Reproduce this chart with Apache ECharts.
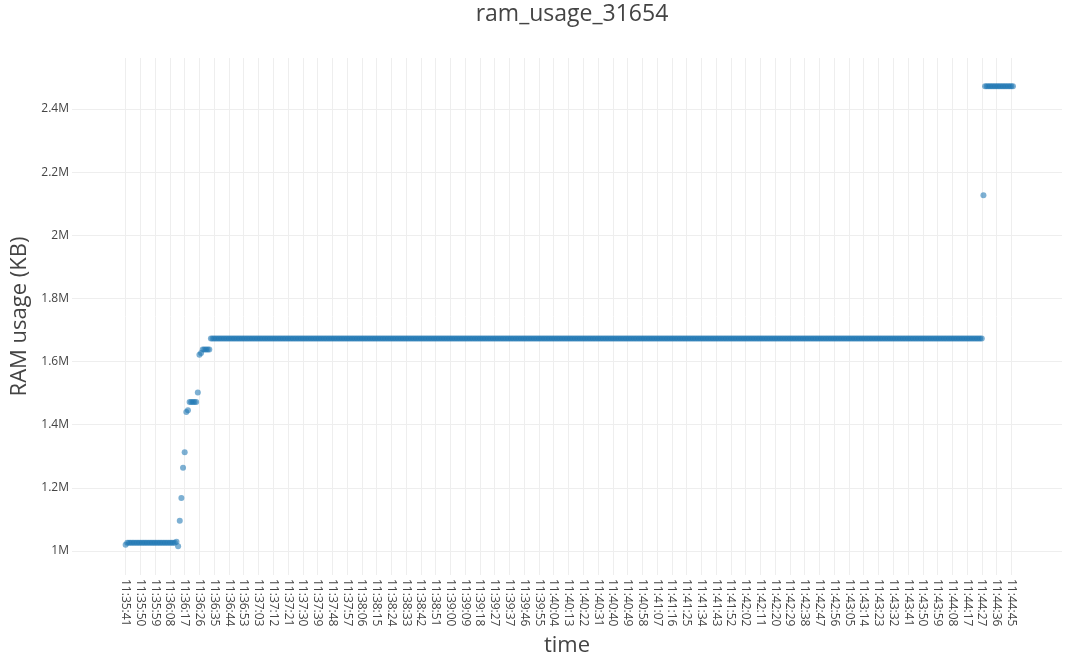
<!DOCTYPE html>
<html>
<head>
<meta charset="utf-8">
<script src="https://cdn.jsdelivr.net/npm/echarts@6/dist/echarts.min.js"></script>
<style>
html,body{margin:0;padding:0;background:#fff;}
#chart{width:1065px;height:657px;}
</style>
</head>
<body>
<div id="chart"></div>
<script>
// Tick labels shown on the x axis (one every 9 samples)
const tickLabels = [
  "11:35:41","11:35:50","11:35:59","11:36:08","11:36:17","11:36:26","11:36:35","11:36:44","11:36:53","11:37:03",
  "11:37:12","11:37:21","11:37:30","11:37:39","11:37:48","11:37:57","11:38:06","11:38:15","11:38:24","11:38:33",
  "11:38:42","11:38:51","11:39:00","11:39:09","11:39:18","11:39:27","11:39:37","11:39:46","11:39:55","11:40:04",
  "11:40:13","11:40:22","11:40:31","11:40:40","11:40:49","11:40:58","11:41:07","11:41:16","11:41:25","11:41:34",
  "11:41:43","11:41:52","11:42:02","11:42:11","11:42:20","11:42:29","11:42:38","11:42:47","11:42:56","11:43:05",
  "11:43:14","11:43:23","11:43:32","11:43:41","11:43:50","11:43:59","11:44:08","11:44:17","11:44:27","11:44:36",
  "11:44:45"
];
const samplesPerTick = 9;

// RAM usage (KB) as runs of consecutive samples: value and number of samples
const runValues = [
  1020000, 1026000, 1029000, 1015000, 1096000, 1168000, 1264000, 1313000,
  1440000, 1446000, 1472000, 1502000, 1622000, 1627000, 1638000, 1673000,
  2127000, 2472000
];
const runLengths = [
  1, 30, 1, 1, 1, 1, 1, 1,
  1, 1, 5, 1, 1, 1, 5, 471,
  1, 18
];

// Y tick values
const yTicks = [1000000, 1200000, 1400000, 1600000, 1800000, 2000000, 2200000, 2400000];

const points = [];
let idx = 0;
runValues.forEach((v, r) => {
  for (let k = 0; k < runLengths[r]; k++) { points.push([idx, v]); idx++; }
});
const xTickValues = tickLabels.map((_, i) => i * samplesPerTick);

const FONT = "'Open Sans', sans-serif";
const chart = echarts.init(document.getElementById('chart'));
chart.setOption({
  animation: false,
  backgroundColor: '#fff',
  textStyle: { fontFamily: FONT },
  title: {
    text: 'ram_usage_31654',
    left: 567,
    textAlign: 'center',
    top: -2,
    textStyle: { fontFamily: FONT, fontSize: 23, fontWeight: 'normal', color: '#444' }
  },
  grid: { left: 72, right: 3, top: 58, bottom: 82, containLabel: false, outerBoundsMode: 'none' },
  xAxis: {
    type: 'value',
    min: -32.7,
    max: 570.9,
    name: 'time',
    nameLocation: 'middle',
    nameGap: 57,
    nameTextStyle: { fontFamily: FONT, fontSize: 22, color: '#444', verticalAlign: 'top' },
    axisLine: { show: false },
    axisTick: { show: false, customValues: xTickValues },
    axisLabel: {
      customValues: xTickValues,
      rotate: -90,
      margin: 4,
      fontSize: 12,
      color: '#444',
      fontFamily: FONT,
      formatter: (v) => tickLabels[Math.round(v / samplesPerTick)] || ''
    },
    splitLine: { show: true, lineStyle: { color: '#eee', width: 1 } }
  },
  yAxis: {
    type: 'value',
    min: 924000,
    max: 2561600,
    name: 'RAM usage (KB)',
    nameLocation: 'middle',
    nameGap: 39,
    nameTextStyle: { fontFamily: FONT, fontSize: 22, color: '#444' },
    axisLine: { show: false },
    axisTick: { show: false, customValues: yTicks },
    axisLabel: {
      customValues: yTicks,
      margin: 3,
      fontSize: 12,
      color: '#444',
      fontFamily: FONT,
      formatter: (v) => (v / 1000000) + 'M'
    },
    splitLine: { show: true, lineStyle: { color: '#eee', width: 1 } }
  },
  series: [{
    type: 'scatter',
    data: points,
    symbol: 'circle',
    symbolSize: 6,
    itemStyle: { color: '#1f77b4', opacity: 0.58 }
  }]
});
</script>
</body>
</html>
